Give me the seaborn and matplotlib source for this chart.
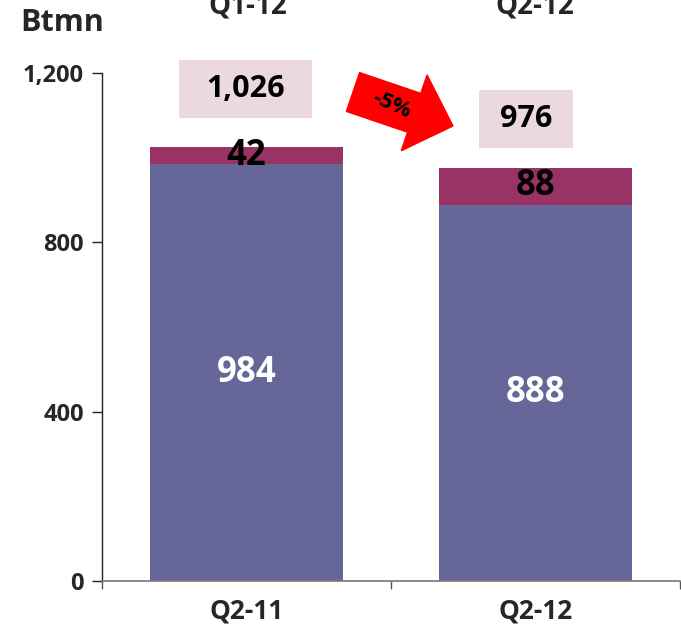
import matplotlib
matplotlib.use("Agg")
import matplotlib.pyplot as plt
import matplotlib.patches as mpatches
import pandas as pd
import seaborn as sns

# values (Btmn)
quarters = ["Q2-11", "Q2-12"]
base_vals = [984, 888]
extra_vals = [42, 88]
totals = [b + e for b, e in zip(base_vals, extra_vals)]
top_labels = ["Q1-12", "Q2-12"]
change_label = "-5%"

sns.set_theme(style="white")
plt.rcParams['font.family'] = ['Open Sans', 'DejaVu Sans']
plt.rcParams['font.weight'] = 'bold'

df = pd.DataFrame({"quarter": quarters, "base": base_vals, "total": totals})

fig = plt.figure(figsize=(6.81, 6.27), dpi=100)
ax = fig.add_axes([0.1498, 0.0734, 0.8487, 0.8102])

base_col = "#666699"
extra_col = "#993366"
box_col = "#EBD8E1"

sns.barplot(data=df, x="quarter", y="total", color=extra_col, width=0.67,
            saturation=1, linewidth=0, ax=ax)
sns.barplot(data=df, x="quarter", y="base", color=base_col, width=0.67,
            saturation=1, linewidth=0, ax=ax)

ax.set_xlim(-0.5, 1.5)
ax.set_ylim(0, 1200)
ax.set_yticks([0, 400, 800, 1200])
ax.set_yticklabels(["0", "400", "800", "1,200"], fontsize=17, fontweight="bold")
ax.set_xticks(range(len(quarters)))
ax.set_xticklabels(quarters, fontsize=19, fontweight="bold")
ax.set_xticks([-0.5, 0.5, 1.5], minor=True)
ax.tick_params(axis="x", which="major", length=0, pad=12)
ax.tick_params(axis="x", which="minor", length=6, width=1, color="#555555",
               direction="out", bottom=True)
ax.tick_params(axis="y", length=7, width=1, color="#222222", direction="out",
               left=True, pad=6)
ax.set_xlabel("")
ax.set_ylabel("")
for s in ["top", "right"]:
    ax.spines[s].set_visible(False)
ax.spines["left"].set_color("#222222")
ax.spines["bottom"].set_color("#777777")
ax.spines["left"].set_linewidth(1)
ax.spines["bottom"].set_linewidth(1.2)

# values inside bars
for i in range(len(quarters)):
    ax.text(i, base_vals[i] / 2, f"{base_vals[i]:,}",
            ha="center", va="center", color="white", fontsize=25, fontweight="bold")
    ax.text(i, base_vals[i] + extra_vals[i] / 2, f"{extra_vals[i]}",
            ha="center", va="center", color="black", fontsize=25, fontweight="bold")

# total boxes (x0, x1, y0, y1 in data units)
box_pos = [(-0.232, 0.225, 1094, 1231), (0.803, 1.131, 1023, 1160)]
for (x0, x1, y0, y1), t in zip(box_pos, totals):
    ax.add_patch(mpatches.Rectangle((x0, y0), x1 - x0, y1 - y0, fc=box_col,
                                    ec="none", clip_on=False, zorder=3))
    ax.text((x0 + x1) / 2, (y0 + y1) / 2, f"{t:,}", ha="center", va="center",
            fontsize=22, fontweight="bold", color="black", zorder=4)

# red arrow (drawn in inches on the figure)
arr = mpatches.FancyArrow(3.53, 5.35, 1.0, -0.34, width=0.41, head_width=0.80,
                          head_length=0.41, length_includes_head=True,
                          color="#FF0000", transform=fig.dpi_scale_trans,
                          clip_on=False)
fig.add_artist(arr)
fig.text(3.92 / 6.81, 1 - 1.05 / 6.27, change_label, ha="center", va="center",
         rotation=-24, fontsize=16, fontweight="bold", color="black")

fig.text(20 / 681, 1 - 23 / 627, "Btmn", ha="left", va="center",
         fontsize=22, fontweight="bold")
for x, lab in zip([248, 535], top_labels):
    fig.text(x / 681, 1 - 6 / 627, lab, ha="center", va="center",
             fontsize=20, fontweight="bold")

fig.savefig("out.png", dpi=100)
